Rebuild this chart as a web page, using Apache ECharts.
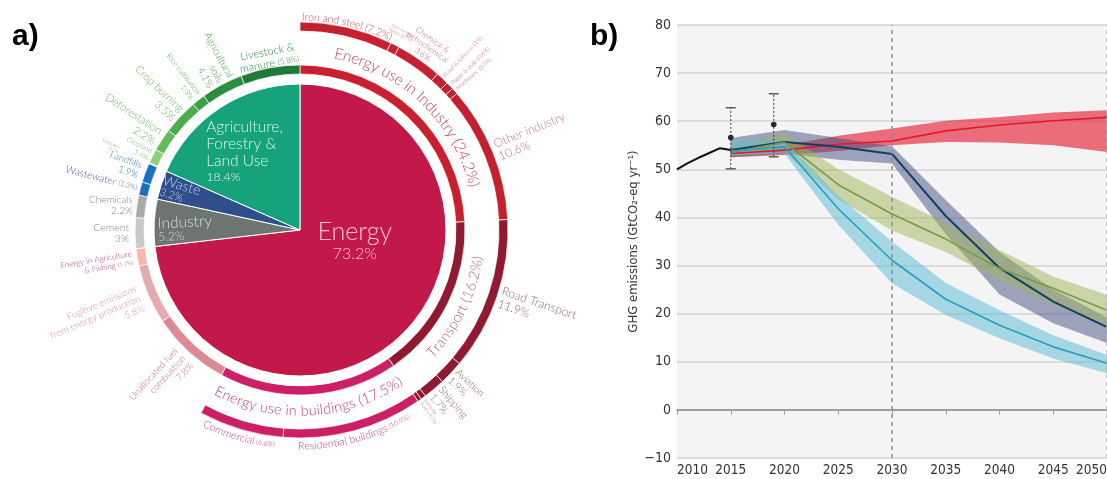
<!DOCTYPE html>
<html>
<head>
<meta charset="utf-8">
<title>Global GHG emissions by sector and emission pathways</title>
<script src="https://cdn.jsdelivr.net/npm/echarts@6.0.0/dist/echarts.min.js"></script>
<style>
  html, body { margin: 0; padding: 0; background: #ffffff; }
  #chart { width: 1107px; height: 479px; }
</style>
</head>
<body>
<div id="chart"></div>
<script>
// ---------- a) Share of global greenhouse gas emissions by sector (%) ----------
const sectorNames  = ['Energy', 'Industry', 'Waste', 'Agriculture, Forestry & Land Use'];
const sectorShares = [73.2, 5.2, 3.2, 18.4];

const subsectorNames = ['Energy use in Industry', 'Transport', 'Energy use in buildings',
  'Unallocated fuel combustion', 'Fugitive emissions from energy production',
  'Energy in Agriculture & Fishing', 'Cement', 'Chemicals', 'Wastewater', 'Landfills',
  'Grassland', 'Cropland', 'Deforestation', 'Crop burning', 'Rice cultivation',
  'Agricultural soils', 'Livestock & manure'];
const subsectorShares = [24.2, 16.2, 17.5, 7.8, 5.8, 1.7, 3, 2.2, 1.3, 1.9, 0.1, 1.4, 2.2, 3.5, 1.3, 4.1, 5.8];

const endUseNames = ['Iron and steel', 'Non-ferrous metals', 'Chemical & petrochemical',
  'Food & tobacco', 'Paper & pulp', 'Machinery', 'Other industry', 'Road Transport',
  'Aviation', 'Shipping', 'Rail', 'Pipeline', 'Residential buildings', 'Commercial'];
const endUseShares = [7.2, 0.7, 3.6, 1, 0.6, 0.5, 10.6, 11.9, 1.9, 1.7, 0.4, 0.3, 10.9, 6.6];

// ---------- b) GHG emissions pathways (GtCO2-eq per year) ----------
const histYears  = [2010, 2011, 2012, 2013, 2014, 2015];
const histValues = [50.0, 51.3, 52.4, 53.4, 54.4, 54.0];

const obsYears = [2015, 2019];
const obsLow   = [50.1, 52.6];
const obsMid   = [56.6, 59.3];
const obsHigh  = [62.8, 65.7];

const scenYears = [2015, 2020, 2025, 2030, 2035, 2040, 2045, 2050];
const policyMedian = [53.3, 54.0, 55.2, 55.9, 58.0, 59.2, 60.1, 60.8];
const policyLow    = [52.5, 53.0, 53.8, 55.0, 55.7, 55.6, 55.0, 53.6];
const policyHigh   = [54.3, 55.0, 57.0, 58.5, 60.1, 60.9, 61.8, 62.3];

const ndcMedian = [54.0, 55.7, 54.7, 53.2, 40.3, 29.5, 22.5, 17.2];
const ndcLow    = [52.5, 53.3, 52.0, 51.2, 36.5, 24.0, 18.0, 13.9];
const ndcHigh   = [56.5, 58.2, 56.5, 54.8, 43.6, 32.8, 25.0, 19.2];

const twoDegMedian = [53.5, 55.6, 46.8, 40.7, 35.5, 29.4, 25.3, 20.7];
const twoDegLow    = [52.8, 53.5, 43.8, 37.3, 32.8, 27.0, 21.8, 17.6];
const twoDegHigh   = [55.0, 57.6, 50.0, 44.3, 38.8, 33.2, 27.7, 23.9];

const oneFiveMedian = [53.8, 54.7, 41.8, 31.1, 23.0, 17.6, 13.1, 9.7];
const oneFiveLow    = [52.8, 53.3, 38.5, 26.3, 19.7, 14.9, 10.7, 7.6];
const oneFiveHigh   = [56.2, 56.0, 44.5, 35.0, 26.4, 20.7, 15.5, 11.4];

const yearTickStep = 5;
const emissionTickStep = 10;

// ---------- styling ----------
const FONT = 'Lato';
const WEIGHT = 300;
const AX_FONT = "'Liberation Sans Narrow', 'DejaVu Sans Condensed', sans-serif";
const CENTER = [300, 230];
const PIE_R = 146;
const MID_R = [156, 165];
const OUT_R = [199, 208];
const CLEAR = 'rgba(0,0,0,0)';

const sectorColors = ['#C2184A', '#6E7471', '#2E4E8C', '#16A37B'];
const subsectorColors = ['#C8202F', '#8E1B30', '#CC1F66', '#D98A92', '#E4AAAE', '#F6B9A6',
  '#C9C9C9', '#A9A9A9', '#1C6FC2', '#1C6FC2', '#B0DC9C', '#8FD07C', '#62BA58', '#4CAD4F',
  '#39A047', '#2A8E3D', '#1E7A36'];
const endUseColors = ['#C4202E', '#C4202E', '#C4202E', '#C4202E', '#C4202E', '#C4202E', '#C4202E',
  '#8E1B30', '#8E1B30', '#8E1B30', '#8E1B30', '#8E1B30', '#CC1F66', '#CC1F66'];

// text of each sector label (value filled in from the data)
const fill = (tpl, v) => tpl.split('{v}').join(String(v));
const txt = (fontSize, lineHeight, color, align) =>
  Object.assign({ fontSize, lineHeight, color, fontFamily: FONT, fontWeight: WEIGHT }, align ? { align } : {});

const innerLabels = [
  { formatter: '{a|Energy}\n{b|{v}%}', rich: { a: txt(25, 27, '#F7C4D1'), b: txt(16, 17, '#F7C4D1') } },
  { formatter: '{a|Industry}\n{b|{v}%}', rotate: 3, rich: { a: txt(15.5, 15, '#DADDDB', 'left'), b: txt(12, 12, '#DADDDB', 'left') } },
  { formatter: '{a|Waste}\n{b|{v}%}', rotate: -16, rich: { a: txt(14, 13, '#C6D1EC', 'left'), b: txt(11, 11, '#C6D1EC', 'left') } },
  { formatter: '{a|Agriculture,}\n{a|Forestry &}\n{a|Land Use}\n{b|{v}%}', rich: { a: txt(15.5, 17, '#DDF3EA', 'left'), b: txt(12.5, 15, '#DDF3EA', 'left') } }
];
const innerLabelShift = [{ dx: -2, dy: -40 }, { dx: -39, dy: 0 }, { dx: -50, dy: -2 }, { dx: -14, dy: -15 }];

// labels set outside the rings, read along the radius
const midOutside = {
  3:  { tpl: 'Unallocated fuel\ncombustion\n{v}%', R: 172, fs: 9.5, color: '#C76C79' },
  4:  { tpl: 'Fugitive emissions\nfrom energy production\n{v}%', R: 174, fs: 9.5, color: '#D4939C' },
  5:  { tpl: 'Energy in Agriculture\n& Fishing {s|({v}%)}', R: 170, fs: 8, color: '#C2437A' },
  6:  { tpl: 'Cement\n{v}%', R: 171, fs: 10.5, color: '#858585', rot: 0 },
  7:  { tpl: 'Chemicals\n{v}%', R: 169, fs: 10, color: '#858585', rot: 0 },
  8:  { tpl: 'Wastewater {s|({v}%)}', R: 168, fs: 10, color: '#53569F' },
  9:  { tpl: 'Landfills\n{v}%', R: 171, fs: 9.5, color: '#3878BE' },
  10: { tpl: 'Grassland\n{v}%', R: 198, fs: 4.5, color: '#62A858' },
  11: { tpl: 'Cropland\n{v}%', R: 168, fs: 7, color: '#7EBC72' },
  12: { tpl: 'Deforestation\n{v}%', R: 170, fs: 11, color: '#76B568' },
  13: { tpl: 'Crop burning\n{v}%', R: 168, fs: 11, color: '#73B366' },
  14: { tpl: 'Rice cultivation\n{v}%', R: 170, fs: 7.5, color: '#57A25B' },
  15: { tpl: 'Agricultural\nsoils\n{v}%', R: 168, fs: 10, color: '#489850' }
};
const outOutside = {
  3:  { tpl: 'Food & tobacco ({v}%)', R: 211, fs: 6, color: '#C46070' },
  4:  { tpl: 'Paper & pulp ({v}%)', R: 211, fs: 6, color: '#C46070' },
  5:  { tpl: 'Machinery ({v}%)', R: 211, fs: 6, color: '#C46070' },
  6:  { tpl: 'Other industry\n{v}%', R: 212, fs: 12, color: '#C97383' },
  7:  { tpl: 'Road Transport\n{v}%', R: 211, fs: 12, color: '#8A6770' },
  8:  { tpl: 'Aviation\n{v}%', R: 211, fs: 10, color: '#8A6770' },
  9:  { tpl: 'Shipping\n{v}%', R: 211, fs: 10.5, color: '#8A6770' },
  10: { tpl: 'Rail ({v}%)', R: 211, fs: 4, color: '#8A6770' },
  11: { tpl: 'Pipeline ({v}%)', R: 211, fs: 4, color: '#8A6770' }
};
// labels laid along the ring direction
const midTangential = { 16: { tpl: 'Livestock &\nmanure {s|({v}%)}', R: 175, fs: 11, color: '#2C8A4C' } };
const outTangential = {
  1: { tpl: 'Non-ferrous\nmetals ({v}%)', R: 222, fs: 4.5, color: '#C46070' },
  2: { tpl: 'Chemical &\npetrochemical\n{v}%', R: 223, fs: 8, color: '#C46070' }
};
// labels bent along the arcs
const curvedLabels = [
  { ring: 'mid', idx: 0,  parts: [['Energy use in Industry ({v}%)', 15.5]], R: 180, color: '#C54B5A' },
  { ring: 'mid', idx: 1,  parts: [['Transport ({v}%)', 14.5]], R: 180, color: '#A26A76' },
  { ring: 'mid', idx: 2,  parts: [['Energy use in buildings ({v}%)', 14.5]], R: 181, color: '#C9407A' },
  { ring: 'out', idx: 0,  parts: [['Iron and steel ({v}%)', 10.5]], R: 213, color: '#C24E5B' },
  { ring: 'out', idx: 12, parts: [['Residential buildings', 10.5], [' ({v}%)', 7]], R: 216, color: '#C9407A' },
  { ring: 'out', idx: 13, parts: [['Commercial', 10.5], [' ({v}%)', 7]], R: 216, color: '#C9407A' }
];

// ---------- helpers ----------
const sum = a => a.reduce((s, x) => s + x, 0);
const midpoints = shares => { let acc = 0; return shares.map(s => { const m = acc + s / 2; acc += s; return m; }); };
const outerValues = endUseShares.concat([+(100 - sum(endUseShares)).toFixed(2)]);

const pieBase = {
  type: 'pie', center: CENTER, startAngle: 90, clockwise: true, silent: true,
  avoidLabelOverlap: false, minShowLabelAngle: 0, emphasis: { disabled: true },
  labelLine: { show: false }, labelLayout: { hideOverlap: false, moveOverlap: false }
};

function outsideItem(spec, v, ringOuter) {
  return {
    label: {
      show: true, position: 'outside', formatter: fill(spec.tpl, v),
      rotate: spec.rot === undefined ? 'radial' : spec.rot,
      fontSize: spec.fs, lineHeight: spec.fs * 1.12, color: spec.color, fontFamily: FONT, fontWeight: WEIGHT,
      distanceToLabelLine: 0, alignTo: 'none', overflow: 'none',
      rich: { s: { fontSize: spec.fs * 0.72, color: spec.color, fontFamily: FONT, fontWeight: WEIGHT } }
    },
    labelLine: { show: false, length: spec.R - ringOuter, length2: 0 }
  };
}

// an invisible ring whose sectors only carry labels along the arc direction
function tangentialRing(values, specs) {
  const byRadius = {};
  Object.keys(specs).forEach(k => { const R = specs[k].R; (byRadius[R] = byRadius[R] || []).push(+k); });
  return Object.keys(byRadius).map(R => Object.assign({}, pieBase, {
    radius: [R - 3.5, R - 2.5],
    label: { show: false, position: 'inside', rotate: 'tangential' },
    data: values.map((v, i) => {
      const s = byRadius[R].indexOf(i) >= 0 ? specs[i] : null;
      return {
        value: v, itemStyle: { color: CLEAR, borderWidth: 0 },
        label: s ? { show: true, formatter: fill(s.tpl, v), fontSize: s.fs, lineHeight: s.fs * 1.1,
          color: s.color, fontFamily: FONT, fontWeight: WEIGHT,
          rich: { s: { fontSize: s.fs * 0.72, color: s.color, fontFamily: FONT, fontWeight: WEIGHT } } }
          : { show: false }
      };
    })
  }));
}

// text bent along an arc: every glyph is a label on its own thin invisible sector
const measure = document.createElement('canvas').getContext('2d');
function curvedText(spec) {
  const shares = spec.ring === 'mid' ? subsectorShares : endUseShares;
  const v = shares[spec.idx];
  const centreValue = midpoints(shares)[spec.idx];
  const glyphs = [];
  spec.parts.forEach(([tpl, fs]) => {
    for (const ch of fill(tpl, v)) {
      measure.font = WEIGHT + ' ' + fs + 'px ' + FONT;
      const w = measure.measureText(ch).width;
      glyphs.push({ ch, fs, v: w / spec.R / (2 * Math.PI) * 100 });
    }
  });
  const span = sum(glyphs.map(g => g.v));
  const deg = centreValue * 3.6;
  const ordered = (deg > 90 && deg < 270) ? glyphs.slice().reverse() : glyphs;
  const data = [{ value: centreValue - span / 2, itemStyle: { color: CLEAR }, label: { show: false } }];
  ordered.forEach(g => data.push({
    value: g.v, itemStyle: { color: CLEAR },
    label: { show: g.ch !== ' ', formatter: g.ch, fontSize: g.fs }
  }));
  data.push({ value: 100 - centreValue - span / 2, itemStyle: { color: CLEAR }, label: { show: false } });
  return Object.assign({}, pieBase, {
    radius: [spec.R - 3.5, spec.R - 2.5],
    itemStyle: { borderWidth: 0 },
    label: { show: true, position: 'inside', rotate: 'tangential', color: spec.color, fontFamily: FONT, fontWeight: WEIGHT },
    data
  });
}

// ---------- panel a series ----------
const pieSeries = [
  Object.assign({}, pieBase, {
    radius: [0, PIE_R],
    itemStyle: { borderColor: '#ffffff', borderWidth: 1 },
    label: { show: true, position: 'inside', fontFamily: FONT },
    labelLayout: p => Object.assign({ hideOverlap: false }, innerLabelShift[p.dataIndex]),
    data: sectorNames.map((n, i) => ({
      name: n, value: sectorShares[i], itemStyle: { color: sectorColors[i] },
      label: Object.assign({}, innerLabels[i], { formatter: fill(innerLabels[i].formatter, sectorShares[i]) })
    }))
  }),
  Object.assign({}, pieBase, {
    radius: MID_R,
    itemStyle: { borderColor: '#ffffff', borderWidth: 0.7 },
    label: { show: false },
    data: subsectorNames.map((n, i) => Object.assign(
      { name: n, value: subsectorShares[i], itemStyle: { color: subsectorColors[i] } },
      midOutside[i] ? outsideItem(midOutside[i], subsectorShares[i], MID_R[1]) : { label: { show: false } }
    ))
  }),
  Object.assign({}, pieBase, {
    radius: OUT_R,
    itemStyle: { borderColor: '#ffffff', borderWidth: 0.7 },
    label: { show: false },
    data: outerValues.map((v, i) => Object.assign(
      { name: endUseNames[i] || '', value: v,
        itemStyle: i < endUseShares.length ? { color: endUseColors[i] } : { color: CLEAR, borderWidth: 0 } },
      outOutside[i] ? outsideItem(outOutside[i], v, OUT_R[1]) : { label: { show: false } }
    ))
  })
].concat(
  tangentialRing(subsectorShares, midTangential),
  tangentialRing(outerValues, outTangential),
  curvedLabels.map(curvedText)
);

// ---------- panel b series ----------
const pairs = (xs, ys) => xs.map((x, i) => [x, ys[i]]);

// shaded range between the low and high pathway of a scenario
function band(low, high, color) {
  return {
    type: 'custom', silent: true, z: 2,
    data: scenYears.map((y, i) => [y, low[i], high[i]]),
    encode: { x: 0, y: [1, 2] },
    renderItem: (params, api) => {
      if (params.dataIndexInside !== 0) return null;
      const n = params.dataInsideLength;
      const upper = [], lower = [];
      for (let i = 0; i < n; i++) {
        const x = api.value(0, i);
        upper.push(api.coord([x, api.value(2, i)]));
        lower.push(api.coord([x, api.value(1, i)]));
      }
      return { type: 'polygon', shape: { points: upper.concat(lower.reverse()) }, style: { fill: color } };
    }
  };
}
function median(name, values, color, width) {
  return { type: 'line', name, data: pairs(scenYears, values), symbol: 'none',
    lineStyle: { color, width }, silent: true, z: 4 };
}

const lineSeries = [
  band(policyLow, policyHigh, 'rgba(230, 40, 60, 0.66)'),
  band(ndcLow, ndcHigh, 'rgba(70, 80, 130, 0.50)'),
  band(twoDegLow, twoDegHigh, 'rgba(160, 180, 90, 0.50)'),
  band(oneFiveLow, oneFiveHigh, 'rgba(100, 190, 215, 0.55)'),
  median('Current policies', policyMedian, '#E3182D', 1.6),
  median('NDCs', ndcMedian, '#123F63', 2),
  median('2 °C', twoDegMedian, '#7A9A45', 1.6),
  median('1.5 °C', oneFiveMedian, '#2A9DBF', 1.6),
  {
    type: 'line', name: 'Historical', data: pairs(histYears, histValues), symbol: 'none',
    lineStyle: { color: '#111111', width: 2 }, silent: true, z: 5,
    markLine: {
      silent: true, symbol: 'none', label: { show: false }, animation: false,
      data: [
        { yAxis: 0, lineStyle: { color: '#9E9E9E', width: 2, type: 'solid' } },
        { xAxis: 2030, lineStyle: { color: '#8C8C8C', width: 1.5, type: [4, 4] } },
        { xAxis: 2050, lineStyle: { color: '#B5B5B5', width: 1.5, type: [4, 4] } }
      ]
    }
  },
  {
    type: 'custom', name: 'Observed range', silent: true, z: 6,
    data: obsYears.map((y, i) => [y, obsLow[i], obsMid[i], obsHigh[i]]),
    encode: { x: 0, y: [1, 2, 3] },
    renderItem: (params, api) => {
      const x = api.value(0);
      const lo = api.coord([x, api.value(1)]);
      const mid = api.coord([x, api.value(2)]);
      const hi = api.coord([x, api.value(3)]);
      const cap = 5;
      const ink = '#3A3A3A';
      return {
        type: 'group', children: [
          { type: 'line', shape: { x1: lo[0], y1: lo[1], x2: hi[0], y2: hi[1] }, style: { stroke: ink, lineWidth: 1, lineDash: [2, 2] } },
          { type: 'line', shape: { x1: lo[0] - cap, y1: lo[1], x2: lo[0] + cap, y2: lo[1] }, style: { stroke: ink, lineWidth: 1.2 } },
          { type: 'line', shape: { x1: hi[0] - cap, y1: hi[1], x2: hi[0] + cap, y2: hi[1] }, style: { stroke: ink, lineWidth: 1.2 } },
          { type: 'circle', shape: { cx: mid[0], cy: mid[1], r: 2.8 }, style: { fill: '#2A2A2A' } }
        ]
      };
    }
  }
];

const option = {
  animation: false,
  backgroundColor: '#ffffff',
  title: [
    { text: 'a)', left: 7, top: 17, textStyle: { fontSize: 30, fontWeight: 'bold', color: '#000', fontFamily: 'Liberation Sans' } },
    { text: 'b)', left: 585, top: 17, textStyle: { fontSize: 30, fontWeight: 'bold', color: '#000', fontFamily: 'Liberation Sans' } }
  ],
  grid: {
    left: 677, top: 25, right: 0, bottom: 21, show: true, backgroundColor: '#F4F4F4', borderWidth: 0,
    containLabel: false, outerBoundsMode: 'none'
  },
  xAxis: {
    type: 'value', min: 2010, max: 2050, interval: yearTickStep,
    axisLine: { show: true, lineStyle: { color: '#A0A0A0', width: 1.5 } },
    axisTick: { show: true, length: 5, lineStyle: { color: '#A0A0A0' } },
    axisLabel: { color: '#333333', fontSize: 13.5, fontFamily: AX_FONT, margin: 5,
      formatter: v => String(v), alignMinLabel: 'left', alignMaxLabel: 'right' },
    splitLine: { show: false }
  },
  yAxis: {
    type: 'value', min: -10, max: 80, interval: emissionTickStep,
    axisLine: { show: false }, axisTick: { show: false },
    axisLabel: { color: '#333333', fontSize: 14, fontFamily: AX_FONT, margin: 6,
      formatter: v => (v < 0 ? '\u2212' + Math.abs(v) : String(v)) },
    splitLine: { lineStyle: { color: '#D4D4D4', width: 1.5 } },
    name: 'GHG emissions (GtCO\u2082-eq yr\u207B\u00B9)', nameLocation: 'middle', nameGap: 34, nameRotate: 90,
    nameTextStyle: { fontSize: 13, color: '#333333', fontFamily: AX_FONT }
  },
  series: pieSeries.concat(lineSeries)
};

const chart = echarts.init(document.getElementById('chart'), null, { renderer: 'canvas' });
chart.setOption(option);
</script>
</body>
</html>
